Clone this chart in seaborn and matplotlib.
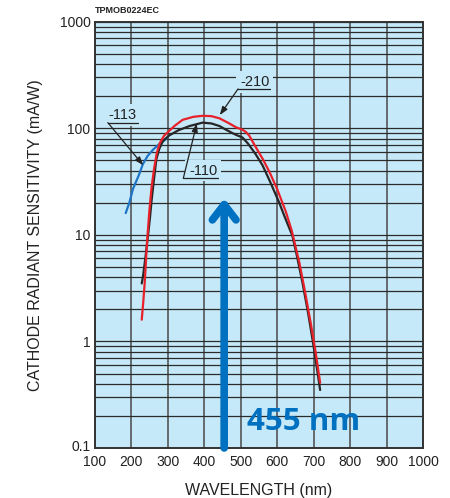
import matplotlib
matplotlib.use("Agg")
import matplotlib.pyplot as plt
import matplotlib.ticker as mticker
import matplotlib.transforms as mtransforms
import pandas as pd
import seaborn as sns

# photocathode spectral response
nm_113 = [185, 195, 205, 222, 232, 245, 260, 275, 287, 300]
sens_113 = [16, 20, 27, 37, 46, 55, 63, 70, 75, 82]

nm_110 = [229, 233, 240, 247, 252, 256, 262, 269, 277, 287, 305, 330, 360, 396, 420,
          442, 460, 478, 490, 505, 520, 540, 560, 580, 606, 620, 642, 655, 670, 685,
          697, 708, 718]
sens_110 = [3.5, 4.2, 6.5, 10.4, 15, 21, 32, 51, 64, 76, 86, 96, 105, 113, 111,
            105, 97, 90, 86, 82, 72, 58, 45, 32, 20, 15, 9.8, 6.2, 3.5, 1.85,
            1.05, 0.6, 0.35]

nm_210 = [229, 233, 237, 244, 250, 256, 263, 270, 278, 290, 305, 320, 341, 370, 396,
          420, 442, 465, 488, 505, 515, 524, 540, 560, 579, 600, 624, 640, 661, 676,
          692, 705, 718]
sens_210 = [1.6, 2.3, 3.5, 9, 17, 28, 42, 58, 72, 85, 95, 106, 120, 128, 131,
            130, 124, 113, 102, 97, 92, 85, 68, 52, 39, 27, 16.5, 11, 5.5, 3.0,
            1.5, 0.82, 0.41]

x_ticks = [100, 200, 300, 400, 500, 600, 700, 800, 900, 1000]
y_ticks = [0.1, 1, 10, 100, 1000]
y_tick_labels = ["0.1", "1", "10", "100", "1000"]
marker_nm = 455

df = pd.concat([
    pd.DataFrame({"nm": nm_113, "sens": sens_113, "tube": "-113"}),
    pd.DataFrame({"nm": nm_110, "sens": sens_110, "tube": "-110"}),
    pd.DataFrame({"nm": nm_210, "sens": sens_210, "tube": "-210"}),
])

sns.set_style("white")
plt.rcParams["font.family"] = ["Liberation Sans", "DejaVu Sans"]

fig = plt.figure(figsize=(4.5, 4.98), dpi=100)
ax = fig.add_axes([0.2104, 0.1004, 0.7296, 0.856])
ax.set_facecolor("#c6e9f9")

sns.lineplot(data=df, x="nm", y="sens", hue="tube", estimator=None, sort=False,
             palette={"-113": "#1f74c4", "-110": "#262626", "-210": "#e8202a"},
             hue_order=["-113", "-110", "-210"], linewidth=1.6, legend=False, ax=ax,
             zorder=4)

ax.set_yscale("log")
ax.set_xlim(100, 1000)
ax.set_ylim(0.1, 1000)
ax.set_xticks(x_ticks)
ax.set_yticks(y_ticks)
ax.set_yticklabels(y_tick_labels)
ax.yaxis.set_minor_locator(mticker.LogLocator(base=10, subs=range(2, 10)))
ax.yaxis.set_minor_formatter(mticker.NullFormatter())
ax.grid(which="both", axis="y", color="#2b2b2b", linewidth=0.9, zorder=1)
ax.grid(which="major", axis="x", color="#4a4a4a", linewidth=1.3, alpha=0.85, zorder=1)
ax.set_axisbelow(True)
ax.tick_params(which="both", length=0, labelsize=10, colors="#222222")
ax.tick_params(axis="x", pad=5)
ax.tick_params(axis="y", pad=3)
# lift the 0.1 label a little so it clears the 100 below it
lbl = ax.get_yticklabels()[0]
lbl.set_transform(lbl.get_transform() +
                  mtransforms.ScaledTranslation(0, 2 / 72, fig.dpi_scale_trans))
for s in ax.spines.values():
    s.set_color("#333333")
    s.set_linewidth(1.4)

ax.set_xlabel("WAVELENGTH (nm)", fontsize=11.5, color="#222222", labelpad=10)
ax.set_ylabel("CATHODE RADIANT SENSITIVITY (mA/W)", fontsize=11.5, color="#222222",
              labelpad=12)

# curve labels: text, underline, leader arrow
labels = [
    ("-113", (177, 133), (136, 218, 113), (233, 45)),
    ("-110", (397, 40), (343, 438, 34), (380, 111)),
    ("-210", (539, 272), (493, 580, 234), (443, 133)),
]
for txt, tpos, (u0, u1, uy), tip in labels:
    ax.text(tpos[0], tpos[1], txt, fontsize=10.5, color="#222222", ha="center",
            va="center", zorder=5,
            bbox=dict(boxstyle="square,pad=0.25", fc="#c6e9f9", ec="none"))
    ax.plot([u0, u1], [uy, uy], color="#222222", lw=0.9, zorder=5)
    ax.annotate("", xy=tip, xytext=(u0, uy), zorder=5,
                arrowprops=dict(arrowstyle="-|>,head_length=0.5,head_width=0.18",
                                color="#222222", lw=0.9, shrinkA=0, shrinkB=0))

# highlighted wavelength
ax.annotate("", xy=(marker_nm, 22), xytext=(marker_nm, 0.1), zorder=6,
            arrowprops=dict(arrowstyle="->,head_length=1.1,head_width=0.85",
                            color="#0070c0", lw=5.5, shrinkA=0, shrinkB=0,
                            capstyle="round", joinstyle="round"))
ax.text(518, 0.175, f"{marker_nm} nm", fontsize=22.5, fontweight="bold",
        color="#0070c0", family=["Open Sans", "DejaVu Sans"], ha="left",
        va="center", zorder=6)

fig.text(0.211, 0.978, "TPMOB0224EC", fontsize=6.5, fontweight="bold",
         color="#222222", ha="left", va="center")

fig.savefig("out.png", dpi=100)
